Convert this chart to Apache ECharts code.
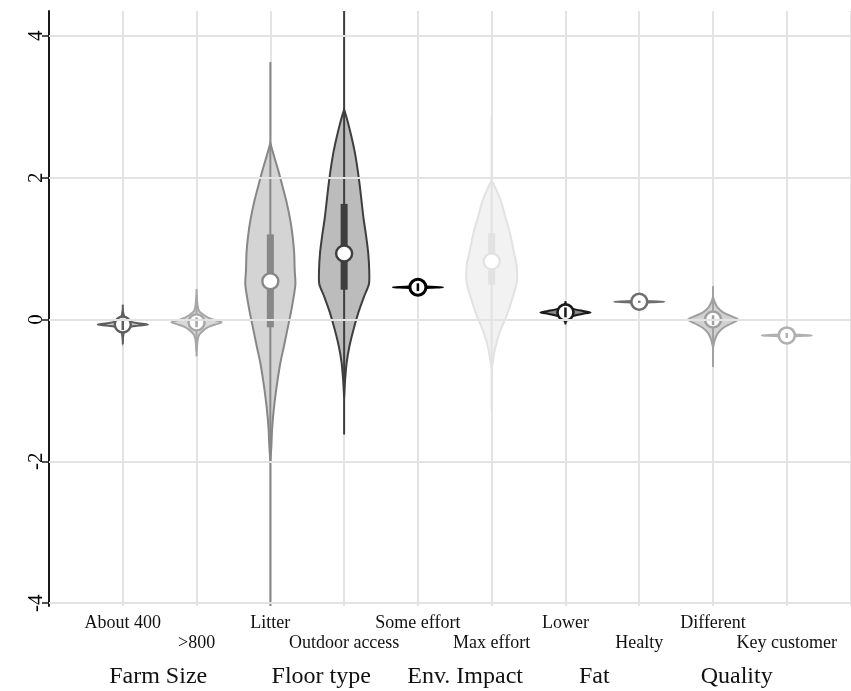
<!DOCTYPE html>
<html>
<head>
<meta charset="utf-8">
<script src="https://cdn.jsdelivr.net/npm/echarts@6/dist/echarts.min.js"></script>
<style>
  html, body { margin: 0; padding: 0; background: #fff; }
  #chart { width: 851px; height: 691px; }
</style>
</head>
<body>
<div id="chart"></div>
<script>
// ---------------- DATA ----------------
const categories = ['About 400', '>800', 'Litter', 'Outdoor access', 'Some effort', 'Max effort', 'Lower', 'Healty', 'Different', 'Key customer'];
const groupTitles = ['Farm Size', 'Floor type', 'Env. Impact', 'Fat', 'Quality'];
const yTicks = [-4, -2, 0, 2, 4];

const medians  = [-0.07, -0.04, 0.54, 0.93, 0.455, 0.82, 0.10, 0.25, 0.00, -0.225];
const q1       = [-0.15, -0.11, -0.11, 0.42, 0.40, 0.49, 0.03, 0.243, -0.08, -0.26];
const q3       = [0.01, 0.03, 1.20, 1.63, 0.51, 1.22, 0.17, 0.257, 0.06, -0.19];
const lowerAdj = [-0.35, -0.52, -4.60, -1.62, 0.455, -1.28, -0.07, 0.25, -0.67, -0.225];
const upperAdj = [0.21, 0.43, 3.63, 4.60, 0.455, 2.86, 0.26, 0.25, 0.47, -0.225];

// density profiles: [y, relative density (max = 1)]
const densAbout400 = [[-0.28,0],[-0.20,0.03],[-0.15,0.08],[-0.12,0.2],[-0.10,0.35],[-0.09,0.55],[-0.08,0.8],[-0.07,1],[-0.06,0.8],[-0.05,0.55],[-0.03,0.32],[0.00,0.16],[0.05,0.05],[0.13,0]];
const dens800 = [[-0.45,0],[-0.30,0.04],[-0.22,0.1],[-0.15,0.28],[-0.10,0.5],[-0.07,0.75],[-0.04,1],[-0.01,0.75],[0.02,0.5],[0.07,0.26],[0.12,0.1],[0.20,0.04],[0.35,0]];
const densLitter = [[2.49,0],[2.30,0.15],[2.11,0.31],[1.87,0.49],[1.65,0.65],[1.41,0.79],[1.17,0.89],[0.94,0.95],[0.70,0.97],[0.50,1.0],[0.32,0.93],[0.10,0.82],[-0.14,0.68],[-0.38,0.54],[-0.61,0.40],[-0.85,0.29],[-1.08,0.20],[-1.31,0.125],[-1.55,0.07],[-1.79,0.04],[-2.00,0]];
const densOutdoor = [[2.96,0],[2.82,0.12],[2.58,0.29],[2.35,0.43],[2.11,0.54],[1.87,0.63],[1.65,0.70],[1.41,0.78],[1.17,0.88],[0.94,0.96],[0.70,1.0],[0.50,0.99],[0.32,0.79],[0.10,0.57],[-0.14,0.375],[-0.38,0.21],[-0.61,0.10],[-0.85,0.04],[-1.10,0]];
const densSomeEffort = [[0.435,0],[0.447,0.5],[0.455,1],[0.463,0.5],[0.475,0]];
const densMaxEffort = [[1.97,0],[1.69,0.35],[1.45,0.54],[1.23,0.72],[0.99,0.86],[0.75,1.0],[0.52,1.0],[0.28,0.81],[0.04,0.58],[-0.18,0.32],[-0.42,0.13],[-0.70,0]];
const densLower = [[-0.04,0],[0.02,0.1],[0.05,0.3],[0.08,0.7],[0.10,1],[0.12,0.7],[0.15,0.3],[0.18,0.1],[0.23,0]];
const densHealty = [[0.232,0],[0.243,0.5],[0.25,1],[0.257,0.5],[0.268,0]];
const densDifferent = [[-0.40,0],[-0.30,0.06],[-0.20,0.18],[-0.12,0.4],[-0.06,0.7],[0.00,1],[0.05,0.7],[0.10,0.4],[0.17,0.18],[0.25,0.06],[0.32,0]];
const densKeyCustomer = [[-0.245,0],[-0.234,0.5],[-0.225,1],[-0.216,0.5],[-0.205,0]];

const densities = [densAbout400, dens800, densLitter, densOutdoor, densSomeEffort, densMaxEffort, densLower, densHealty, densDifferent, densKeyCustomer];

// ---------------- STYLE / LAYOUT ----------------
const Y_MIN = -4.04, Y_MAX = 4.35;
const X_MIN = 0, X_MAX = 10.87;
const HALF_WIDTH = 0.34;            // max half-width of a violin in x-axis units
const GROUP_TITLE_X = [1.48, 3.69, 5.64, 7.39, 9.32];
const FONT = 'Liberation Serif';
const MEDIAN_R = 8;
const styles = [
  { fill: '#c4c4c4', line: '#5e5e5e', cw: 2.4 },
  { fill: '#d9d9d9', line: '#a6a6a6', cw: 2.4 },
  { fill: '#d4d4d4', line: '#878787', cw: 2.4 },
  { fill: '#bcbcbc', line: '#3e3e3e', cw: 2.4 },
  { fill: '#4a4a4a', line: '#000000', cw: 3 },
  { fill: '#f2f2f2', line: '#e2e2e2', cw: 2.4 },
  { fill: '#8a8a8a', line: '#1a1a1a', cw: 2.6 },
  { fill: '#9a9a9a', line: '#6e6e6e', cw: 2.6 },
  { fill: '#d2d2d2', line: '#a0a0a0', cw: 2.6 },
  { fill: '#d6d6d6', line: '#b0b0b0', cw: 2.6 }
];

function clampY(v) { return Math.max(Y_MIN, Math.min(Y_MAX, v)); }

function renderViolin(params, api) {
  const i = api.value(0);
  const cx = i + 1;
  const dens = densities[i];
  const st = styles[i];
  const pts = [];
  for (let k = 0; k < dens.length; k++) pts.push(api.coord([cx + dens[k][1] * HALF_WIDTH, dens[k][0]]));
  for (let k = dens.length - 1; k >= 0; k--) pts.push(api.coord([cx - dens[k][1] * HALF_WIDTH, dens[k][0]]));
  const top = api.coord([cx, clampY(upperAdj[i])]);
  const bot = api.coord([cx, clampY(lowerAdj[i])]);
  const b3 = api.coord([cx, q3[i]]);
  const b1 = api.coord([cx, q1[i]]);
  const m = api.coord([cx, medians[i]]);
  const boxW = 7;
  const children = [
    { type: 'polygon', shape: { points: pts, smooth: 0.25 }, style: { fill: st.fill, stroke: st.line, lineWidth: 2 } }
  ];
  if (Math.abs(bot[1] - top[1]) > 1) {
    children.push({ type: 'line', shape: { x1: top[0], y1: top[1], x2: bot[0], y2: bot[1] }, style: { stroke: st.line, lineWidth: 2 } });
  }
  const boxInside = (m[1] - b3[1]) < MEDIAN_R && (b1[1] - m[1]) < MEDIAN_R;
  if (!boxInside) {
    children.push({ type: 'rect', shape: { x: b3[0] - boxW / 2, y: b3[1], width: boxW, height: b1[1] - b3[1] }, style: { fill: st.line } });
  }
  children.push({ type: 'circle', shape: { cx: m[0], cy: m[1], r: MEDIAN_R }, style: { fill: '#ffffff', stroke: st.line, lineWidth: st.cw } });
  if (boxInside) {
    const h = Math.max(2, b1[1] - b3[1]);
    const w = 2.5;
    children.push({ type: 'rect', shape: { x: m[0] - w / 2, y: (b3[1] + b1[1]) / 2 - h / 2, width: w, height: h }, style: { fill: st.line } });
  }
  return { type: 'group', children: children };
}

const chart = echarts.init(document.getElementById('chart'), null, { renderer: 'canvas' });

const option = {
  animation: false,
  backgroundColor: '#ffffff',
  grid: { left: 49, right: 0, top: 11, bottom: 85, containLabel: false },
  xAxis: {
    type: 'value', min: X_MIN, max: X_MAX, interval: 1,
    axisLine: { show: true, lineStyle: { color: '#1a1a1a', width: 2 } },
    axisTick: { show: false },
    splitLine: { show: true, lineStyle: { color: '#e3e3e3', width: 2 } },
    axisLabel: {
      show: true, margin: 7, fontFamily: FONT, fontSize: 18, color: '#111', lineHeight: 20,
      showMinLabel: false, showMaxLabel: false,
      formatter: function (v) {
        const k = Math.round(v) - 1;
        if (Math.abs(v - Math.round(v)) > 1e-6 || k < 0 || k >= categories.length) return '';
        return (k % 2 === 1 ? '\n' : '') + categories[k];
      }
    }
  },
  yAxis: {
    type: 'value', min: Y_MIN, max: Y_MAX,
    axisLine: { show: true, lineStyle: { color: '#1a1a1a', width: 2 } },
    axisTick: { show: true, length: 7, lineStyle: { color: '#1a1a1a', width: 1.5 }, customValues: yTicks },
    splitLine: { show: false },
    axisLabel: { show: true, rotate: 90, margin: 2, fontFamily: FONT, fontSize: 21, color: '#000', customValues: yTicks }
  },
  series: [
    {
      type: 'line', data: [], silent: true,
      markLine: {
        silent: true, symbol: 'none', label: { show: false },
        lineStyle: { color: '#e3e3e3', width: 2, type: 'solid' },
        data: yTicks.map(v => ({ yAxis: v }))
      },
      z: 1
    },
    {
      type: 'custom',
      renderItem: renderViolin,
      clip: true,
      data: categories.map((c, i) => [i]),
      encode: { x: 0 },
      z: 3
    }
  ]
};
chart.setOption(option);

const titleGraphics = groupTitles.map((t, i) => {
  const p = chart.convertToPixel({ gridIndex: 0 }, [GROUP_TITLE_X[i], Y_MIN]);
  return {
    type: 'text', x: p[0], y: 677,
    style: { text: t, fontFamily: FONT, fontSize: 24, fill: '#111', align: 'center', verticalAlign: 'middle' }
  };
});
chart.setOption({ graphic: titleGraphics });
</script>
</body>
</html>
